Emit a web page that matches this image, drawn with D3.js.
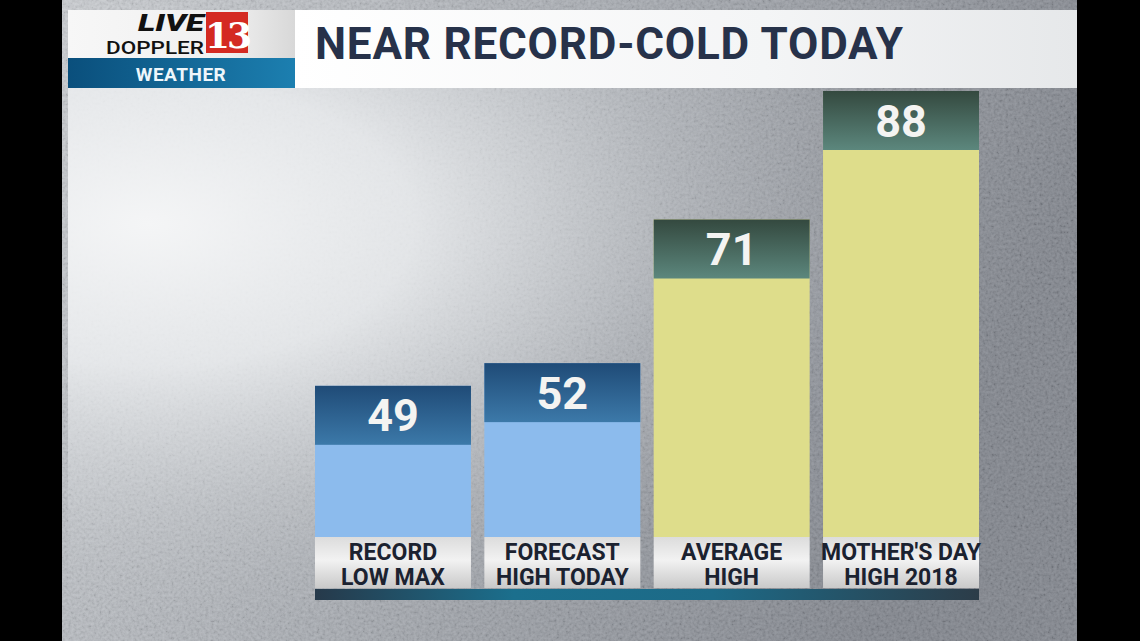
<!DOCTYPE html>
<html><head><meta charset="utf-8">
<script src="https://cdn.jsdelivr.net/npm/d3@7"></script>
<style>html,body{margin:0;padding:0;background:#000;}svg{display:block;}</style>
</head><body>
<svg id="c" width="1140" height="641"></svg>
<script>
const categories = ["RECORD|LOW MAX","FORECAST|HIGH TODAY","AVERAGE|HIGH","MOTHER'S DAY|HIGH 2018"];
const values = [49, 52, 71, 88];
const groups = ["cold","cold","warm","warm"];
const titleText = "NEAR RECORD-COLD TODAY";

const svg = d3.select("#c");
const W = 1140, H = 641;
const defs = svg.append("defs");

function lg(id, stops, x2, y2){
  const g = defs.append("linearGradient").attr("id", id).attr("x1",0).attr("y1",0).attr("x2",x2).attr("y2",y2);
  stops.forEach(s=>g.append("stop").attr("offset",s[0]).attr("stop-color",s[1]));
}
lg("bgG", [[0,"#c9ccd0"],[0.5,"#a7abb1"],[1,"#80848c"]], 1, 0.3);
lg("titleG", [[0,"#ffffff"],[0.6,"#f4f5f6"],[1,"#e6e8ea"]], 1, 0);
lg("logoG", [[0,"#f7f7f7"],[0.7,"#f0f0f0"],[1,"#d8d8d8"]], 1, 0);
lg("wxG", [[0,"#0a4f7c"],[1,"#1c7fb0"]], 1, 0);
lg("coldH", [[0,"#1f4b77"],[1,"#3c79a9"]], 0, 1);
lg("warmH", [[0,"#34493f"],[1,"#5c877d"]], 0, 1);
lg("labG", [[0,"#dcdcdc"],[0.45,"#f2f2f2"],[1,"#c9c9c9"]], 0, 1);
lg("baseG", [[0,"#26394a"],[0.3,"#1b6f8d"],[0.6,"#1d6a87"],[1,"#2c3c48"]], 1, 0);
const fog = defs.append("radialGradient").attr("id","fogG").attr("cx",0.08).attr("cy",0.25).attr("r",0.75);
fog.append("stop").attr("offset",0).attr("stop-color","#f4f5f6").attr("stop-opacity",1);
fog.append("stop").attr("offset",0.35).attr("stop-color","#eceef0").attr("stop-opacity",0.85);
fog.append("stop").attr("offset",0.7).attr("stop-color","#d8dbde").attr("stop-opacity",0.3);
fog.append("stop").attr("offset",1).attr("stop-color","#c0c3c7").attr("stop-opacity",0);
const nf = defs.append("filter").attr("id","noise").attr("x",0).attr("y",0).attr("width","100%").attr("height","100%");
nf.append("feTurbulence").attr("type","fractalNoise").attr("baseFrequency",0.35).attr("numOctaves",2).attr("seed",5).attr("result","t");
nf.append("feColorMatrix").attr("type","matrix").attr("values","1.6 0 0 0 -0.3  1.6 0 0 0 -0.3  1.6 0 0 0 -0.3  0 0 0 0 1");

// frame
svg.append("rect").attr("width",W).attr("height",H).attr("fill","#000");
svg.append("rect").attr("x",62).attr("y",0).attr("width",1015).attr("height",H).attr("fill","url(#bgG)");
svg.append("rect").attr("x",62).attr("y",0).attr("width",1015).attr("height",H).attr("filter","url(#noise)").attr("opacity",0.12);
svg.append("rect").attr("x",68).attr("y",88).attr("width",1009).attr("height",542).attr("fill","url(#fogG)");

// header
svg.append("rect").attr("x",295).attr("y",10).attr("width",782).attr("height",78).attr("fill","url(#titleG)");
svg.append("rect").attr("x",68).attr("y",10).attr("width",227).attr("height",48).attr("fill","url(#logoG)");
svg.append("rect").attr("x",68).attr("y",58).attr("width",227).attr("height",30).attr("fill","url(#wxG)");
svg.append("text").attr("x",181).attr("y",81).attr("text-anchor","middle").attr("fill","#eef6fb")
  .attr("font-family","Roboto").attr("font-weight",700).attr("font-size",19).attr("letter-spacing",0.5).text("WEATHER");
svg.append("text").attr("x",138).attr("y",31).attr("fill","#111")
  .attr("font-family","Roboto").attr("font-weight",900).attr("font-style","italic").attr("font-size",24)
  .attr("textLength",66).attr("lengthAdjust","spacingAndGlyphs").text("LIVE");
svg.append("text").attr("x",106).attr("y",54).attr("fill","#111")
  .attr("font-family","Roboto").attr("font-weight",500).attr("font-size",18)
  .attr("textLength",98).attr("lengthAdjust","spacingAndGlyphs").text("DOPPLER");
svg.append("rect").attr("x",206).attr("y",12).attr("width",42).attr("height",41).attr("fill","#d42a22");
svg.append("text").attr("x",227).attr("y",48).attr("text-anchor","middle").attr("fill","#fff")
  .attr("font-family","DejaVu Serif").attr("font-weight",700).attr("font-size",36).attr("letter-spacing",-3).text("13");
svg.append("text").attr("x",315).attr("y",59).attr("fill","#27324a")
  .attr("font-family","Roboto").attr("font-weight",700).attr("font-size",44).attr("letter-spacing",0.8).text(titleText);

// scales
const baseY = 537;
const x = d3.scaleBand().domain(categories).range([315, 979]).paddingInner(0.079).paddingOuter(0);
const y = d3.scaleLinear().domain([29, 88]).range([baseY, 91]);
const headH = 59;

const bars = svg.append("g").selectAll("g").data(categories).join("g");
bars.append("rect").attr("x", d=>x(d)).attr("width", x.bandwidth())
  .attr("y", (d,i)=>y(values[i])).attr("height",(d,i)=>baseY - y(values[i]))
  .attr("fill",(d,i)=>groups[i]==="cold" ? "#8cbbed" : "#dedd8b");
bars.append("rect").attr("x", d=>x(d)).attr("width", x.bandwidth())
  .attr("y", (d,i)=>y(values[i])).attr("height", headH)
  .attr("fill",(d,i)=>groups[i]==="cold" ? "url(#coldH)" : "url(#warmH)");
bars.append("text").attr("x", d=>x(d)+x.bandwidth()/2).attr("y",(d,i)=>y(values[i])+headH/2+16)
  .attr("text-anchor","middle").attr("fill","#f4f4f2").attr("font-family","Roboto").attr("font-weight",700)
  .attr("font-size",45).text((d,i)=>values[i]);
bars.append("rect").attr("x", d=>x(d)).attr("width", x.bandwidth()).attr("y", baseY).attr("height", 51).attr("fill","url(#labG)");
bars.each(function(d){
  const parts = d.split("|");
  const g = d3.select(this);
  parts.forEach((p,j)=>{
    g.append("text").attr("x", x(d)+x.bandwidth()/2).attr("y", baseY+23+j*25)
      .attr("text-anchor","middle").attr("fill","#1b2230").attr("font-family","Roboto").attr("font-weight",700)
      .attr("font-size",23).text(p);
  });
});
svg.append("rect").attr("x", x.range()[0]).attr("width", x.range()[1]-x.range()[0]).attr("y", 589).attr("height", 11).attr("fill","url(#baseG)");
</script>
</body></html>
